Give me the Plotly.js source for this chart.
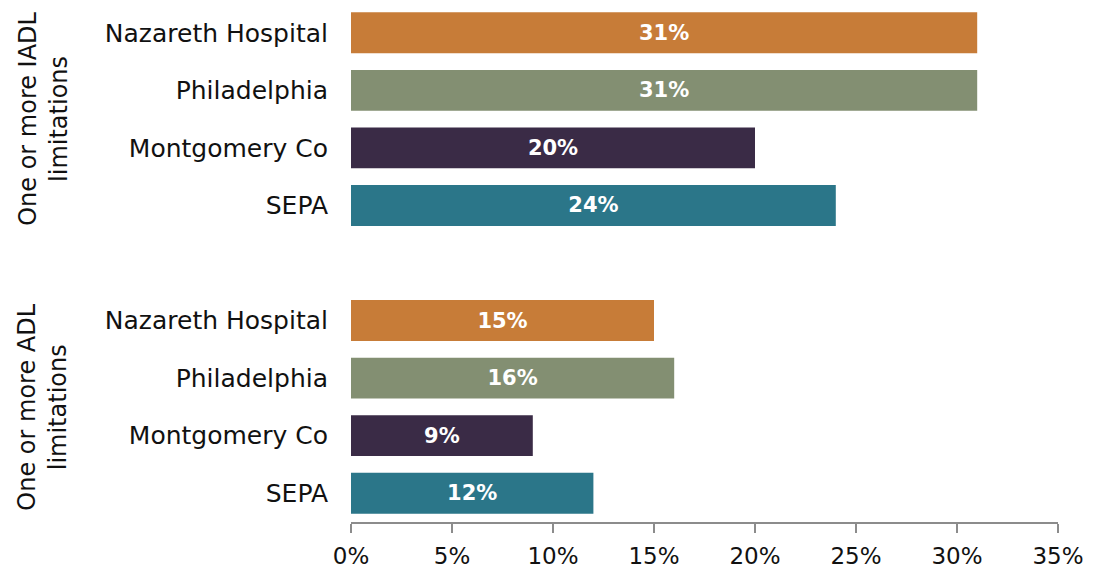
<!DOCTYPE html>
<html>
<head>
<meta charset="utf-8">
<script src="https://cdn.plot.ly/plotly-3.0.1.min.js"></script>
<style>html,body{margin:0;padding:0;background:#fff;}#chart{width:1105px;height:573px;}</style>
</head>
<body>
<div id="chart"></div>
<script>
const groups = ["One or more IADL<br>limitations", "One or more ADL<br>limitations"];
const regions = ["Nazareth Hospital", "Philadelphia", "Montgomery Co", "SEPA"];
const iadlValues = [31, 31, 20, 24];
const adlValues = [15, 16, 9, 12];
const regionColors = ["#C77C38", "#838F72", "#3A2B46", "#2B7689"];
const xTickVals = [0, 5, 10, 15, 20, 25, 30, 35];

const FONT = "'Century Gothic', 'DejaVu Sans', sans-serif";
const groupValues = [iadlValues, adlValues];
const slot = regions.length + 1;

const yPos = [], xVals = [], cols = [], tickText = [], labels = [];
groupValues.forEach((vals, g) => {
  vals.forEach((v, i) => {
    yPos.push(g * slot + i);
    xVals.push(v);
    labels.push(v + "%");
    cols.push(regionColors[i]);
    tickText.push(regions[i]);
  });
});

const trace = {
  type: "bar",
  orientation: "h",
  x: xVals,
  y: yPos,
  width: 0.71,
  marker: { color: cols },
  text: labels,
  texttemplate: "%{text}",
  textposition: "inside",
  insidetextanchor: "middle",
  textangle: 0,
  textfont: { family: FONT, size: 21, color: "#ffffff", weight: "bold" },
  hoverinfo: "skip"
};

const annotations = groups.map((g, gi) => ({
  text: g,
  xref: "paper",
  yref: "y",
  x: -0.436,
  y: gi * slot + (regions.length - 1) / 2,
  xanchor: "center",
  yanchor: "middle",
  textangle: -90,
  showarrow: false,
  font: { family: FONT, size: 24, color: "#111111" }
}));

const layout = {
  width: 1105,
  height: 573,
  margin: { l: 351, r: 47, t: 4, b: 51 },
  paper_bgcolor: "#ffffff",
  plot_bgcolor: "#ffffff",
  showlegend: false,
  font: { family: FONT, size: 22, color: "#111111" },
  xaxis: {
    range: [0, 35],
    tickvals: xTickVals,
    ticktext: xTickVals.map(v => v + "%"),
    showgrid: false,
    zeroline: false,
    showline: true,
    linecolor: "#8c8c8c",
    linewidth: 1.5,
    ticks: "outside",
    ticklen: 9,
    tickwidth: 1.5,
    tickcolor: "#8c8c8c",
    ticklabelstandoff: 4,
    tickfont: { family: FONT, size: 23, color: "#111111" },
    fixedrange: true
  },
  yaxis: {
    range: [groupValues.length * slot - 1 - 0.5, -0.5],
    tickvals: yPos,
    ticktext: tickText,
    showgrid: false,
    zeroline: false,
    showline: false,
    ticks: "",
    ticklabelstandoff: 22,
    tickfont: { family: FONT, size: 25, color: "#111111" },
    fixedrange: true
  },
  annotations: annotations
};

Plotly.newPlot("chart", [trace], layout, { displayModeBar: false, staticPlot: true });
</script>
</body>
</html>
